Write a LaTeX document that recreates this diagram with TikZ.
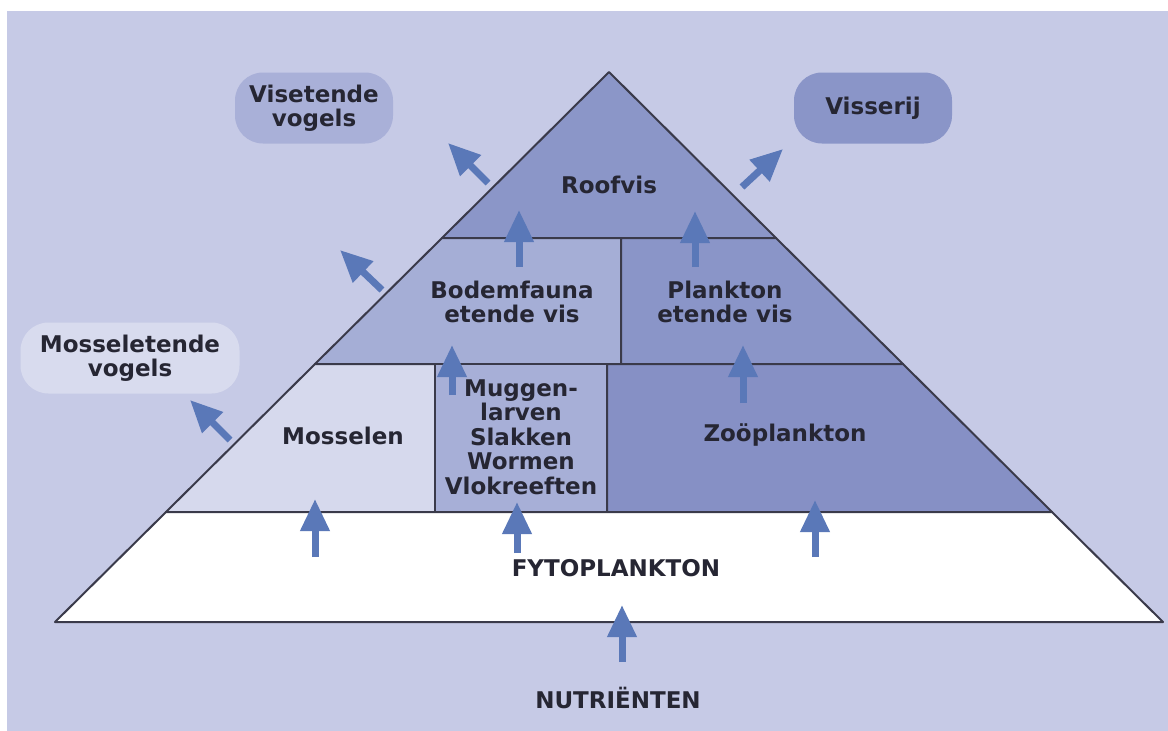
\documentclass[tikz,border=0pt]{standalone}
\usepackage{fontspec}
\setmainfont{DejaVu Sans}
\usetikzlibrary{arrows.meta,positioning}

\definecolor{bgC}{HTML}{C6CAE6}
\definecolor{visvogC}{HTML}{A9B0D8}
\definecolor{visserC}{HTML}{8A95C8}
\definecolor{mossvogC}{HTML}{D8DBEE}
\definecolor{roofC}{HTML}{8B96C8}
\definecolor{bodemC}{HTML}{A5AED6}
\definecolor{plankC}{HTML}{8A95C8}
\definecolor{mosselC}{HTML}{D6D9ED}
\definecolor{muggC}{HTML}{A7AFD7}
\definecolor{zooC}{HTML}{8690C5}
\definecolor{arrC}{HTML}{5A78B8}
\definecolor{lineC}{HTML}{3A3A4A}
\definecolor{txtC}{HTML}{262633}

\begin{document}
\begin{tikzpicture}[
			x=1pt, y=-1pt,
			lbl/.style={
				font=\bfseries\fontsize{23}{24.5}\selectfont,
				text=txtC,
				align=center,
				inner sep=0
			},
			cell/.style={
				draw=lineC,
				line width=2pt,
				line join=round
			},
			bubble/.style={
				lbl,
				rounded corners=28pt,
				minimum width=158pt,
				minimum height=71pt
			},
			flow/.style={
				draw=arrC,
				line width=7pt,
				-{Triangle[width=28pt,length=32pt]}
			}
		]

		\useasboundingbox (0,0) rectangle (1168,731);
		\fill[white] (0,0) rectangle (1168,731);
		\fill[bgC] (7,11) rectangle (1168,731);

		% pyramid
		\coordinate (top) at (609,72);
		\path[cell, fill=roofC] (top) -- (776,238) -- (442,238) -- cycle;
		\path[cell, fill=bodemC] (442,238) -- (621,238) -- (621,364) -- (315,364) -- cycle;
		\path[cell, fill=plankC] (621,238) -- (776,238) -- (903,364) -- (621,364) -- cycle;
		\path[cell, fill=mosselC] (315,364) -- (435,364) -- (435,512) -- (166,512) -- cycle;
		\path[cell, fill=muggC] (435,364) -- (607,364) -- (607,512) -- (435,512) -- cycle;
		\path[cell, fill=zooC] (607,364) -- (903,364) -- (1052,512) -- (607,512) -- cycle;
		\path[cell, fill=white] (166,512) -- (1052,512) -- (1163,622) -- (55,622) -- cycle;

		\node [lbl] (roofvis) at (609,185) {Roofvis};
		\node [lbl] (bodemvis) at (512,302) {Bodemfauna\\etende vis};
		\node [lbl] (planktonvis) at (725,302) {Plankton\\etende vis};
		\node [lbl] (mosselen) at (343,436) {Mosselen};
		\node [lbl] (muggen) at (521,437) {Muggen-\\larven\\Slakken\\Wormen\\Vlokreeften};
		\node [lbl] (zoo) at (785,435) {Zoöplankton};
		\node [lbl] (fyto) at (616,568) {FYTOPLANKTON};
		\node [lbl] (nutri) at (618,698) {NUTRIËNTEN};

		\node [bubble, fill=visvogC] (visvogels) at (314,108) {Visetende\\vogels};
		\node [bubble, fill=visserC] (visserij) at (873,108) {Visserij};
		\node [bubble, fill=mossvogC, minimum width=219pt] (mosselvogels) at (130,358) {Mosseletende\\vogels};

		% upward flows
		\foreach \n/\x/\from/\to in {roofl/519/267/210, roofr/695/267/211,
			bodem/452/395/345, plank/743/403/345, mossel/315/557/499,
			mugg/517/553/502, zoo/815/557/500, fyto/622/662/605}{%
			\coordinate (\n-s) at (\x,\from);
			\coordinate (\n-e) at (\x,\to);
			\draw[flow] (\n-s) -- (\n-e);
		}

		% outward flows
		\foreach \n/\xa/\ya/\xb/\yb in {visvog/488/183/448/143, bodemvog/382/290/340/250,
			mosselvog/230/440/190/400, visser/742/187/783/149}{%
			\coordinate (\n-s) at (\xa,\ya);
			\coordinate (\n-e) at (\xb,\yb);
			\draw[flow] (\n-s) -- (\n-e);
		}

	\end{tikzpicture}
\end{document}
